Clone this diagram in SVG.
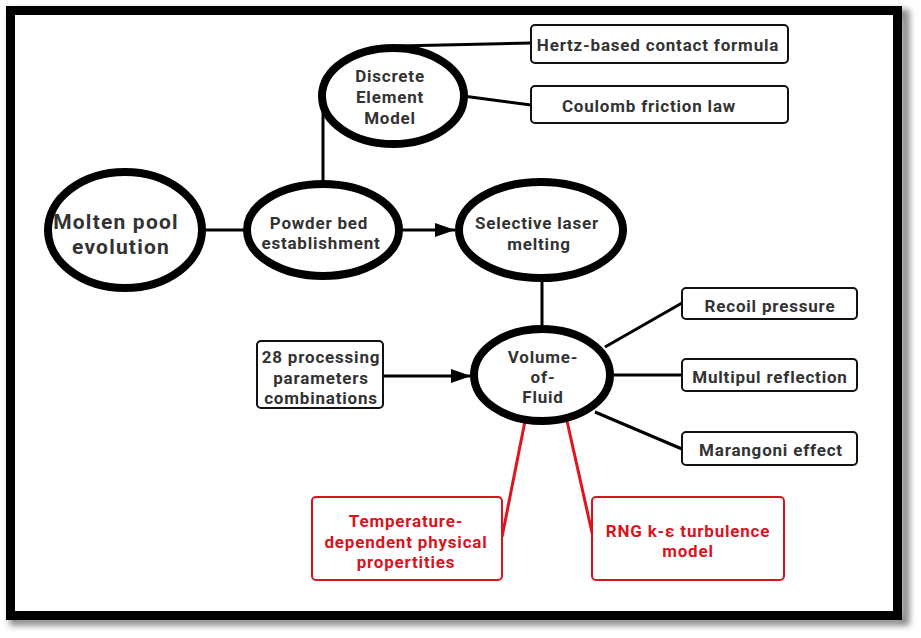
<svg xmlns="http://www.w3.org/2000/svg" width="921" height="638" viewBox="0 0 921 638">
<defs>
<filter id="shadow" x="-5%" y="-5%" width="115%" height="115%">
<feGaussianBlur stdDeviation="3"/>
</filter>
<marker id="arrow" markerWidth="20" markerHeight="14" refX="20" refY="7" orient="auto" markerUnits="userSpaceOnUse">
<path d="M0,0 L20,7 L0,14 Z" fill="#000"/>
</marker>
</defs>
<style>
text{font-family:Roboto,"Open Sans","Liberation Sans",sans-serif;font-weight:bold;fill:#333;text-anchor:middle;font-size:17px;letter-spacing:0.8px}
.big{font-size:21px;letter-spacing:1.2px}
.red{fill:#d9141e}
.ell{fill:#fff;stroke:#000;stroke-width:8}
.box{fill:#fff;stroke:#111;stroke-width:2}
.rbox{fill:#fff;stroke:#d9141e;stroke-width:2}
.ln{stroke:#000;stroke-width:3;fill:none}
.rln{stroke:#e0141e;stroke-width:3;fill:none}
</style>
<rect width="921" height="638" fill="#fff"/>
<rect x="14" y="14" width="891" height="607" fill="none" stroke="#888" stroke-width="9" filter="url(#shadow)"/>
<rect x="10.5" y="10.5" width="887" height="605" fill="#fff" stroke="#000" stroke-width="9"/>
<g id="connectors">
<line class="ln" x1="205" y1="230" x2="244" y2="230"/>
<line class="ln" x1="403" y1="230" x2="455" y2="230" marker-end="url(#arrow)"/>
<line class="ln" x1="323" y1="181" x2="323" y2="106"/>
<line class="ln" x1="398" y1="46" x2="531" y2="43"/>
<line class="ln" x1="463" y1="96" x2="531" y2="105"/>
<line class="ln" x1="542" y1="281" x2="542" y2="326"/>
<line class="ln" x1="383" y1="376" x2="471" y2="376" marker-end="url(#arrow)"/>
<line class="ln" x1="605" y1="347" x2="682" y2="303"/>
<line class="ln" x1="614" y1="375" x2="682" y2="375"/>
<line class="ln" x1="595" y1="412" x2="682" y2="449"/>
<line class="rln" x1="525" y1="421" x2="502" y2="537"/>
<line class="rln" x1="567" y1="421" x2="593" y2="537"/>
</g>
<g id="molten-pool">
<ellipse class="ell" cx="125" cy="230" rx="77" ry="58" stroke-width="9"/>
<text class="big" x="116" y="229">Molten pool</text>
<text class="big" x="121" y="254">evolution</text>
</g>
<g id="powder-bed">
<ellipse class="ell" cx="323" cy="230" rx="76" ry="46"/>
<text x="319" y="229">Powder bed</text>
<text x="321" y="249">establishment</text>
</g>
<g id="dem">
<ellipse class="ell" cx="393" cy="96" rx="71" ry="48" stroke-width="6.5"/>
<text x="390" y="82">Discrete</text>
<text x="390" y="103">Element</text>
<text x="390" y="124">Model</text>
</g>
<g id="slm">
<ellipse class="ell" cx="541" cy="230" rx="82" ry="48"/>
<text x="537" y="229">Selective laser</text>
<text x="539" y="250">melting</text>
</g>
<g id="vof">
<ellipse class="ell" cx="542" cy="375" rx="68" ry="46"/>
<text x="543" y="363">Volume-</text>
<text x="543" y="383">of-</text>
<text x="543" y="403">Fluid</text>
</g>
<g id="hertz">
<rect class="box" x="531" y="25" width="257" height="38" rx="4"/>
<text x="658" y="51">Hertz-based contact formula</text>
</g>
<g id="coulomb">
<rect class="box" x="531" y="86" width="257" height="37" rx="4"/>
<text x="649" y="112">Coulomb friction law</text>
</g>
<g id="recoil">
<rect class="box" x="682" y="288" width="175" height="31" rx="4"/>
<text x="770" y="312">Recoil pressure</text>
</g>
<g id="multipul">
<rect class="box" x="682" y="359" width="175" height="32" rx="4"/>
<text x="770" y="383">Multipul reflection</text>
</g>
<g id="marangoni">
<rect class="box" x="682" y="432" width="175" height="33" rx="4"/>
<text x="771" y="456">Marangoni effect</text>
</g>
<g id="params">
<rect class="box" x="257" y="341" width="126" height="67" rx="4"/>
<text x="321" y="363">28 processing</text>
<text x="321" y="384">parameters</text>
<text x="321" y="404">combinations</text>
</g>
<g id="temperature">
<rect class="rbox" x="312" y="497" width="190" height="83" rx="4"/>
<text class="red" x="406" y="527">Temperature-</text>
<text class="red" x="406" y="548">dependent physical</text>
<text class="red" x="406" y="568">propertities</text>
</g>
<g id="rng">
<rect class="rbox" x="592" y="497" width="192" height="83" rx="4"/>
<text class="red" x="688" y="537">RNG k-ε turbulence</text>
<text class="red" x="688" y="557">model</text>
</g>
</svg>
